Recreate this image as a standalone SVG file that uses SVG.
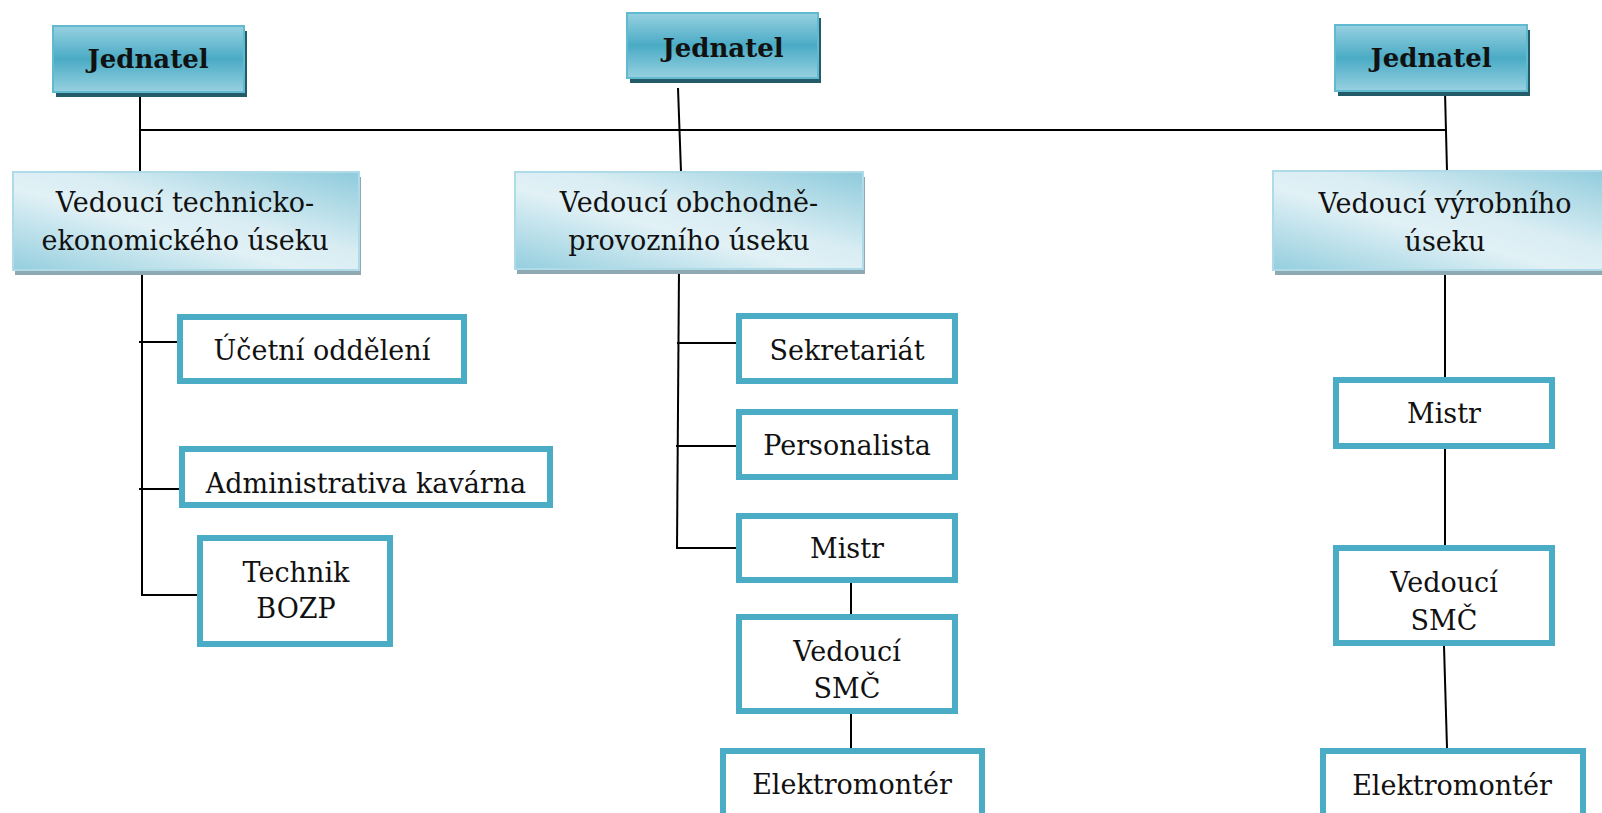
<svg xmlns="http://www.w3.org/2000/svg" width="1602" height="813" viewBox="0 0 1602 813">
  <defs>
    <!-- top-level (Jednatel) fill: darker band through the middle -->
    <linearGradient id="gTop" x1="0" y1="0" x2="0" y2="1">
      <stop offset="0" stop-color="#97d1e1"/>
      <stop offset="0.5" stop-color="#4aabc5"/>
      <stop offset="1" stop-color="#97d1e1"/>
    </linearGradient>
    <!-- section heads: light diagonal band, tinted corners -->
    <linearGradient id="gHead" x1="1" y1="0" x2="0" y2="1">
      <stop offset="0" stop-color="#8ecbdc"/>
      <stop offset="0.42" stop-color="#d9edf3"/>
      <stop offset="0.58" stop-color="#e1f1f6"/>
      <stop offset="1" stop-color="#94cede"/>
    </linearGradient>
    <style>
      .top rect.face { fill: url(#gTop); stroke: #62bad1; stroke-width: 2; }
      .top rect.shadow { fill: #235b69; }
      .head rect.face { fill: url(#gHead); stroke: #aedbe7; stroke-width: 2; }
      .head rect.shadow { fill: #8ea9b2; }
      .unit rect { fill: #ffffff; stroke: #4bacc6; stroke-width: 6; }
      text { font-family: "DejaVu Serif", "Liberation Serif", serif; fill: #111111; text-anchor: middle; }
      .top text { font-weight: bold; font-size: 26px; }
      .head text { font-size: 27px; }
      .unit text { font-size: 27px; }
      #links line { stroke: #000000; stroke-width: 2; fill: none; }
    </style>
  </defs>

  <rect width="1602" height="813" fill="#ffffff"/>

  <!-- connectors -->
  <g id="links">
    <line x1="140" y1="92" x2="140" y2="172"/>
    <line x1="139" y1="130" x2="1446" y2="130"/>
    <line x1="678" y1="88" x2="681" y2="172"/>
    <line x1="1445" y1="92" x2="1447" y2="171"/>

    <line x1="142" y1="270" x2="142" y2="596"/>
    <line x1="139" y1="342" x2="180" y2="342"/>
    <line x1="139" y1="489" x2="182" y2="489"/>
    <line x1="141" y1="595" x2="200" y2="595"/>

    <line x1="679" y1="269" x2="677" y2="549"/>
    <line x1="677" y1="343" x2="739" y2="343"/>
    <line x1="676" y1="446" x2="739" y2="446"/>
    <line x1="676" y1="548" x2="739" y2="548"/>
    <line x1="851" y1="583" x2="851" y2="614"/>
    <line x1="851" y1="714" x2="851" y2="748"/>

    <line x1="1445" y1="270" x2="1445" y2="377"/>
    <line x1="1445" y1="449" x2="1445" y2="545"/>
    <line x1="1444" y1="646" x2="1447" y2="748"/>
  </g>

  <!-- Jednatel -->
  <g id="jednatel-1" class="top">
    <rect class="shadow" x="56" y="31" width="191" height="66"/>
    <rect class="face" x="53" y="26" width="191" height="66"/>
    <text x="148" y="68">Jednatel</text>
  </g>
  <g id="jednatel-2" class="top">
    <rect class="shadow" x="630" y="18" width="191" height="65"/>
    <rect class="face" x="627" y="13" width="191" height="65"/>
    <text x="723" y="57">Jednatel</text>
  </g>
  <g id="jednatel-3" class="top">
    <rect class="shadow" x="1338" y="30" width="192" height="66"/>
    <rect class="face" x="1335" y="25" width="192" height="66"/>
    <text x="1431" y="67">Jednatel</text>
  </g>

  <!-- section heads -->
  <g id="vedouci-tech-ekon" class="head">
    <rect class="shadow" x="15" y="177" width="346" height="98"/>
    <rect class="face" x="13" y="172" width="346" height="98"/>
    <text x="185" y="212">Vedoucí technicko-</text>
    <text x="185" y="250">ekonomického úseku</text>
  </g>
  <g id="vedouci-obch-prov" class="head">
    <rect class="shadow" x="517" y="177" width="348" height="97"/>
    <rect class="face" x="515" y="172" width="348" height="97"/>
    <text x="689" y="212">Vedoucí obchodně-</text>
    <text x="689" y="250">provozního úseku</text>
  </g>
  <g id="vedouci-vyrob" class="head">
    <rect class="shadow" x="1275" y="176" width="344" height="99"/>
    <rect class="face" x="1273" y="171" width="344" height="99"/>
    <text x="1445" y="213">Vedoucí výrobního</text>
    <text x="1445" y="251">úseku</text>
  </g>

  <!-- technical-economic section -->
  <g id="ucetni" class="unit">
    <rect x="180" y="317" width="284" height="64"/>
    <text x="322" y="360">Účetní oddělení</text>
  </g>
  <g id="administrativa" class="unit">
    <rect x="182" y="449" width="368" height="56"/>
    <text x="366" y="493">Administrativa kavárna</text>
  </g>
  <g id="technik-bozp" class="unit">
    <rect x="200" y="538" width="190" height="106"/>
    <text x="296" y="582">Technik</text>
    <text x="296" y="618">BOZP</text>
  </g>

  <!-- commercial-operations section -->
  <g id="sekretariat" class="unit">
    <rect x="739" y="316" width="216" height="65"/>
    <text x="847" y="360">Sekretariát</text>
  </g>
  <g id="personalista" class="unit">
    <rect x="739" y="412" width="216" height="65"/>
    <text x="847" y="455">Personalista</text>
  </g>
  <g id="mistr-1" class="unit">
    <rect x="739" y="516" width="216" height="64"/>
    <text x="847" y="558">Mistr</text>
  </g>
  <g id="vedouci-smc-1" class="unit">
    <rect x="739" y="617" width="216" height="94"/>
    <text x="847" y="661">Vedoucí</text>
    <text x="847" y="698">SMČ</text>
  </g>
  <g id="elektromonter-1" class="unit">
    <rect x="723" y="751" width="259" height="80"/>
    <text x="852" y="794">Elektromontér</text>
  </g>

  <!-- production section -->
  <g id="mistr-2" class="unit">
    <rect x="1336" y="380" width="216" height="66"/>
    <text x="1444" y="423">Mistr</text>
  </g>
  <g id="vedouci-smc-2" class="unit">
    <rect x="1336" y="548" width="216" height="95"/>
    <text x="1444" y="592">Vedoucí</text>
    <text x="1444" y="630">SMČ</text>
  </g>
  <g id="elektromonter-2" class="unit">
    <rect x="1323" y="751" width="260" height="80"/>
    <text x="1452" y="795">Elektromontér</text>
  </g>
</svg>
